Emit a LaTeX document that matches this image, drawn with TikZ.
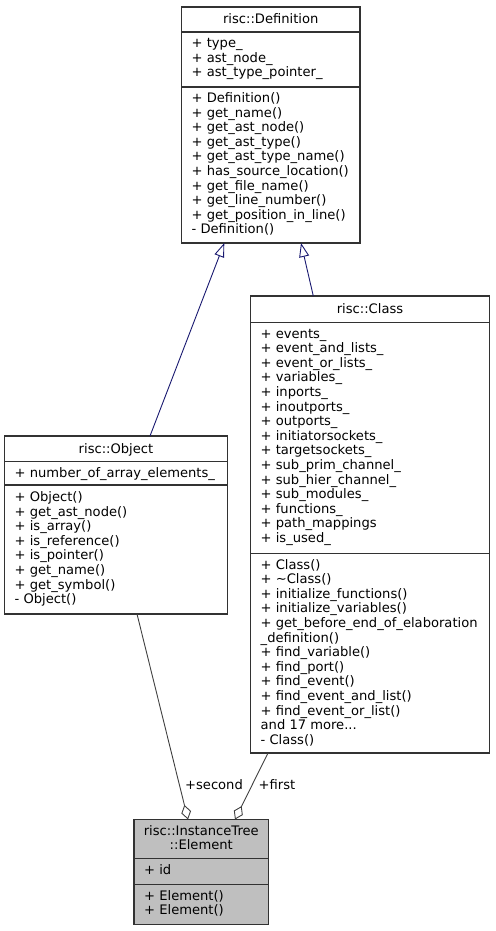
\documentclass[tikz,border=0pt]{standalone}
\usepackage{fontspec}
\setmainfont{DejaVu Sans}
\usetikzlibrary{arrows.meta}
\definecolor{edgeblue}{RGB}{25,25,112}
\definecolor{edgegray}{RGB}{64,64,64}
\definecolor{boxline}{RGB}{50,50,50}
\definecolor{hilite}{RGB}{191,191,191}
\newcommand\threedots{...}
\newcommand\umlrows[4]{%
  \foreach \t [count=\i from 0] in {#4} {
    \node[row] (#1\i) at (#2, {#3+14.6*\i}) {\t};
  }%
}
\begin{document}
\begin{tikzpicture}[x=1pt,y=-1pt,
  every node/.style={font=\fontsize{13.1}{14.6}\selectfont},
  box/.style={draw=boxline, line width=1.1pt, fill=white, anchor=north west, inner sep=0, outer sep=0},
  hbox/.style={box, fill=hilite},
  sepline/.style={draw=boxline, line width=1.1pt},
  row/.style={anchor=base west, inner sep=0},
  ttl/.style={anchor=base, inner sep=0},
  inherit/.style={draw=edgeblue, line width=0.9pt, -{Triangle[open,length=14pt,width=10pt,line width=0.9pt]}},
  aggr/.style={draw=edgegray, line width=0.9pt, -{Diamond[open,length=15pt,width=10pt,line width=0.9pt]}},
  elabel/.style={inner sep=0, anchor=center}
]
\useasboundingbox (0,0) rectangle (495,931);

% ---------- risc::Definition ----------
\node[box, minimum width=178.5pt, minimum height=236pt] (def) at (181.5,7) {};
\draw[sepline] (def.west |- 0,32) -- (def.east |- 0,32);
\draw[sepline] (def.west |- 0,87) -- (def.east |- 0,87);
\node[ttl] (deft) at (270.75,24) {risc::Definition};
\umlrows{defa}{191.5}{47.5}{+ type\_,+ ast\_node\_,+ ast\_type\_pointer\_}
\umlrows{defm}{191.5}{102.5}{+ Definition(),+ get\_name(),+ get\_ast\_node(),+ get\_ast\_type(),+ get\_ast\_type\_name(),+ has\_source\_location(),+ get\_file\_name(),+ get\_line\_number(),+ get\_position\_in\_line(),- Definition()}

% ---------- risc::Object ----------
\node[box, minimum width=223pt, minimum height=178pt] (obj) at (4.5,436) {};
\draw[sepline] (obj.west |- 0,461.5) -- (obj.east |- 0,461.5);
\draw[sepline] (obj.west |- 0,485) -- (obj.east |- 0,485);
\node[ttl] (objt) at (116,453) {risc::Object};
\umlrows{obja}{14.5}{477}{+ number\_of\_array\_elements\_}
\umlrows{objm}{14.5}{501.5}{+ Object(),+ get\_ast\_node(),+ is\_array(),+ is\_reference(),+ is\_pointer(),+ get\_name(),+ get\_symbol(),- Object()}

% ---------- risc::Class ----------
\node[box, minimum width=239pt, minimum height=457pt] (cls) at (250.5,296) {};
\draw[sepline] (cls.west |- 0,322.5) -- (cls.east |- 0,322.5);
\draw[sepline] (cls.west |- 0,553.5) -- (cls.east |- 0,553.5);
\node[ttl] (clst) at (370,313) {risc::Class};
\umlrows{clsa}{260.5}{338}{+ events\_,+ event\_and\_lists\_,+ event\_or\_lists\_,+ variables\_,+ inports\_,+ inoutports\_,+ outports\_,+ initiatorsockets\_,+ targetsockets\_,+ sub\_prim\_channel\_,+ sub\_hier\_channel\_,+ sub\_modules\_,+ functions\_,+ path\_mappings,+ is\_used\_}
\umlrows{clsm}{260.5}{569}{+ Class(),+ \textasciitilde Class(),+ initialize\_functions(),+ initialize\_variables(),+ get\_before\_end\_of\_elaboration,\_definition(),+ find\_variable(),+ find\_port(),+ find\_event(),+ find\_event\_and\_list(),+ find\_event\_or\_list(),and 17 more\threedots,- Class()}

% ---------- risc::InstanceTree::Element ----------
\node[hbox, minimum width=134.5pt, minimum height=105pt] (elem) at (134,819.5) {};
\draw[sepline] (elem.west |- 0,858.5) -- (elem.east |- 0,858.5);
\draw[sepline] (elem.west |- 0,884.5) -- (elem.east |- 0,884.5);
\node[ttl] (elemt1) at (201.25,835) {risc::InstanceTree};
\node[ttl] (elemt2) at (201.25,849.5) {::Element};
\umlrows{elema}{144}{874}{+ id}
\umlrows{elemm}{144}{900}{+ Element(),+ Element()}

% ---------- connectors ----------
\draw[inherit] ([xshift=145.5pt]obj.north west) -- ([xshift=42.8pt]def.south west);
\draw[inherit] ([xshift=62.8pt]cls.north west) -- ([xshift=119.5pt]def.south west);
\draw[aggr] ([xshift=132.5pt]obj.south west) -- ([xshift=54pt]elem.north west);
\draw[aggr] ([xshift=17.5pt]cls.south west) -- ([xshift=101pt]elem.north west);

\node[elabel] (lsec) at (214,785) {+second};
\node[elabel] (lfirst) at (277,785) {+first};
\end{tikzpicture}
\end{document}
